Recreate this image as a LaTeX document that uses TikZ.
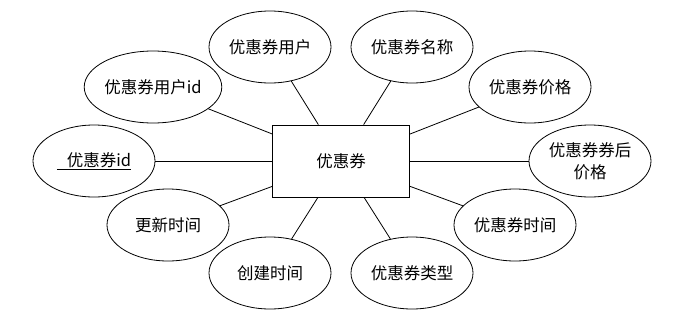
\documentclass[tikz,border=0pt]{standalone}
\usepackage{fontspec}
\newfontfamily\cjk{Noto Sans CJK SC}
\usetikzlibrary{shapes.geometric}

\begin{document}
\begin{tikzpicture}[x=1pt, y=-1pt, font=\cjk\fontsize{16.5}{22}\selectfont]
\tikzstyle{attr}=[ellipse, draw, line width=0.8pt, minimum width=122pt, minimum height=72pt, inner sep=0pt, align=center]
\tikzstyle{ent}=[rectangle, draw, line width=0.8pt, minimum width=137pt, minimum height=72pt]
\tikzstyle{link}=[line width=0.8pt]
\useasboundingbox (0,0) rectangle (688,319);
\fill[white] (0,0) rectangle (688,319);
% entity
\node[ent] (coupon) at (341,161) {优惠券};
% attributes, left side
\node[attr] (user) at (270,47) {优惠券用户};
\node[attr] (userid) at (153,87) {优惠券用户id};
\node[attr] (cid) at (94,161) {\underline{\hspace*{10pt}优惠券id}};
\node[attr] (utime) at (168,225) {更新时间};
\node[attr] (ctime) at (270,273) {创建时间};
% attributes, right side
\node[attr] (name) at (412,47) {优惠券名称};
\node[attr] (price) at (530,87) {优惠券价格};
\node[attr] (final) at (590,161) {优惠券券后\\价格};
\node[attr] (time) at (515,225) {优惠券时间};
\node[attr] (type) at (412,273) {优惠券类型};
\foreach \a in {user,userid,cid,utime,ctime,name,price,final,time,type}
  \draw[link] (\a) -- (coupon);
\end{tikzpicture}
\end{document}
